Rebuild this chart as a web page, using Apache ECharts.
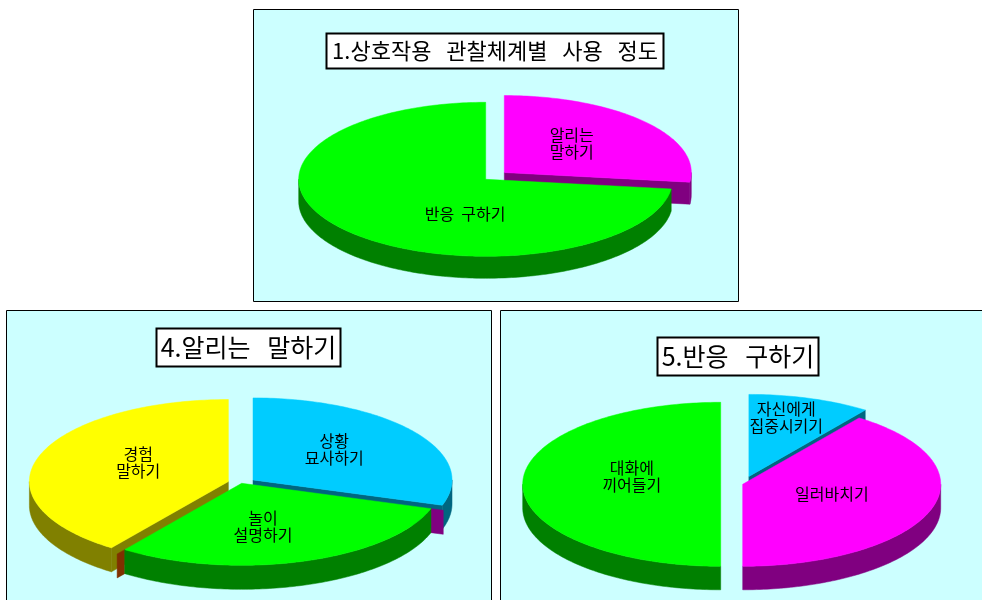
<!DOCTYPE html>
<html>
<head>
<meta charset="utf-8">
<style>
  html, body { margin: 0; padding: 0; background: #fff; overflow: hidden; }
  #chart { width: 982px; height: 600px; }
</style>
<script src="https://cdn.jsdelivr.net/npm/echarts@6/dist/echarts.min.js"></script>
</head>
<body>
<div id="chart"></div>
<script>
// Share of each category, percent, listed clockwise from twelve o'clock.
const usageLabels = ['알리는\n말하기', '반응  구하기'];
const usageValues = [27, 73];
const informLabels = ['상황\n묘사하기', '놀이\n설명하기', '경험\n말하기'];
const informValues = [30, 30, 40];
const responseLabels = ['자신에게\n집중시키기', '일러바치기', '대화에\n끼어들기'];
const responseValues = [10, 40, 50];

const titleFont = '"Noto Sans CJK KR", "Noto Sans", sans-serif';

const GREEN = ['#00ff00', '#008000'];
const MAGENTA = ['#ff00ff', '#800080'];
const BLUE = ['#00ccff', '#006680'];
const YELLOW = ['#ffff00', '#808000'];

// Layout of the three tilted pies: rx/ry are the top-face radii, depth the wall
// height, explode how far a slice is pulled out, labelAt is in radius units.
const pies = [
  {
    name: '상호작용 관찰체계별 사용 정도', labels: usageLabels, values: usageValues,
    cx: 485.7, cy: 179.3, rx: 187, ry: 77, depth: 22,
    colors: [MAGENTA, GREEN], explode: [24.8, 0],
    labelAt: [[0.46, -0.46], [-0.11, 0.45]]
  },
  {
    name: '알리는 말하기', labels: informLabels, values: informValues,
    cx: 241.7, cy: 483.3, rx: 199, ry: 82, depth: 24,
    colors: [BLUE, GREEN, YELLOW], explode: [14, 0, 14],
    labelAt: [[0.465, -0.41], [0.107, 0.53], [-0.52, -0.26]],
    seams: [null, ['#800080', '#803000'], null]
  },
  {
    name: '반응 구하기', labels: responseLabels, values: responseValues,
    cx: 742.7, cy: 484.3, rx: 198, ry: 82, depth: 23.5,
    colors: [BLUE, MAGENTA, GREEN], explode: [20, 0, 22],
    labelAt: [[0.22, -0.81], [0.45, 0.12], [-0.56, -0.09]]
  }
];

const panels = [
  { x: 253.5, y: 9.5, w: 485, h: 292 },
  { x: 6.5, y: 310.5, w: 485, h: 310 },
  { x: 500.5, y: 310.5, w: 500, h: 310 }
];

const titleBoxes = [
  { text: '1.상호작용   관찰체계별   사용   정도', x: 326.5, y: 33.5, w: 337, h: 35, size: 22 },
  { text: '4.알리는   말하기', x: 156.5, y: 328.5, w: 184, h: 38, size: 25 },
  { text: '5.반응   구하기', x: 657.5, y: 337.5, w: 161, h: 38, size: 25 }
];

const RAD = Math.PI / 180;
const SEAM_REACH = 1.065;

function makeRenderItem(pie) {
  const total = pie.values.reduce((a, b) => a + b, 0);
  const slices = [];
  let running = 0;
  pie.values.forEach((v, i) => {
    const a0 = running / total * 360;
    running += v;
    const a1 = running / total * 360;
    const mid = (a0 + a1) / 2 * RAD;
    const e = pie.explode[i];
    slices.push({
      a0, a1,
      x: pie.cx + e * Math.sin(mid),
      y: pie.cy - e * Math.cos(mid) * (pie.ry / pie.rx)
    });
  });
  // Slices further back are painted first so the nearer ones cover them.
  const rank = slices.map((s, i) => i).sort((p, q) => slices[p].y - slices[q].y);

  return function (params, api) {
    const i = api.value(2);
    const s = slices[i];
    const base = rank.indexOf(i) * 10 + 1;
    const rim = (deg, k, drop) => [
      s.x + pie.rx * (k || 1) * Math.sin(deg * RAD),
      s.y - pie.ry * (k || 1) * Math.cos(deg * RAD) + (drop || 0)
    ];
    const arc = (from, to, drop) => {
      const pts = [];
      const n = Math.max(2, Math.ceil(to - from));
      for (let j = 0; j <= n; j++) pts.push(rim(from + (to - from) * j / n, 1, drop));
      return pts;
    };
    const poly = (points, fill, z2) => ({
      type: 'polygon', z2,
      shape: { points },
      style: { fill, stroke: fill, lineWidth: 0.5 }
    });
    const [topColor, wallColor] = pie.colors[i];
    const children = [];

    // Cut faces turned towards the viewer.
    [[s.a0, Math.sin(s.a0 * RAD) < -1e-6], [s.a1, Math.sin(s.a1 * RAD) > 1e-6]].forEach(([deg, seen]) => {
      if (!seen) return;
      const p = rim(deg);
      children.push(poly(
        [[s.x, s.y], p, [p[0], p[1] + pie.depth], [s.x, s.y + pie.depth]],
        wallColor, base
      ));
    });

    // Outer wall along the front half of the rim.
    const lo = Math.max(s.a0, 90);
    const hi = Math.min(s.a1, 270);
    if (lo < hi) {
      children.push(poly(
        arc(lo, hi, 0).concat(arc(lo, hi, pie.depth).reverse()),
        wallColor, base + 1
      ));
    }

    // Short coloured tabs that stick out past the rim at a slice's cut edges.
    const seam = pie.seams && pie.seams[i];
    if (seam) {
      [s.a0, s.a1].forEach((deg, n) => {
        const a = rim(deg, 1);
        const b = rim(deg, SEAM_REACH);
        children.push(poly(
          [a, b, [b[0], b[1] + pie.depth], [a[0], a[1] + pie.depth]],
          seam[n], base
        ));
      });
    }

    // Top face.
    children.push(poly([[s.x, s.y]].concat(arc(s.a0, s.a1, 0)), topColor, base + 2));

    // Slice name.
    const at = pie.labelAt[i];
    children.push({
      type: 'text', z2: 100,
      style: {
        text: pie.labels[i],
        x: pie.cx + at[0] * pie.rx,
        y: pie.cy + at[1] * pie.ry,
        textAlign: 'center',
        textVerticalAlign: 'middle',
        fontFamily: titleFont,
        fontSize: 16,
        lineHeight: 17,
        fill: '#000'
      }
    });
    return { type: 'group', children };
  };
}

const graphicElements = [];
panels.forEach(p => graphicElements.push({
  type: 'rect', z: 0, silent: true,
  shape: { x: p.x, y: p.y, width: p.w, height: p.h },
  style: { fill: '#ccffff', stroke: '#000', lineWidth: 1 }
}));
titleBoxes.forEach(b => graphicElements.push({
  type: 'rect', z: 5, silent: true,
  shape: { x: b.x, y: b.y, width: b.w, height: b.h },
  style: { fill: '#fff', stroke: '#000', lineWidth: 2 }
}));

const option = {
  animation: false,
  backgroundColor: '#fff',
  graphic: { elements: graphicElements },
  title: titleBoxes.map(b => ({
    text: b.text,
    left: b.x + b.w / 2,
    top: b.y + b.h / 2,
    textAlign: 'center',
    textVerticalAlign: 'middle',
    padding: 0,
    z: 6,
    textStyle: { fontFamily: titleFont, fontSize: b.size, fontWeight: 'normal', color: '#000' }
  })),
  series: pies.map(pie => ({
    type: 'custom',
    name: pie.name,
    coordinateSystem: 'none',
    silent: true,
    renderItem: makeRenderItem(pie),
    data: pie.values.map((v, i) => [pie.labels[i], v, i])
  }))
};

const chart = echarts.init(document.getElementById('chart'), null, { renderer: 'canvas' });
chart.setOption(option);
</script>
</body>
</html>
